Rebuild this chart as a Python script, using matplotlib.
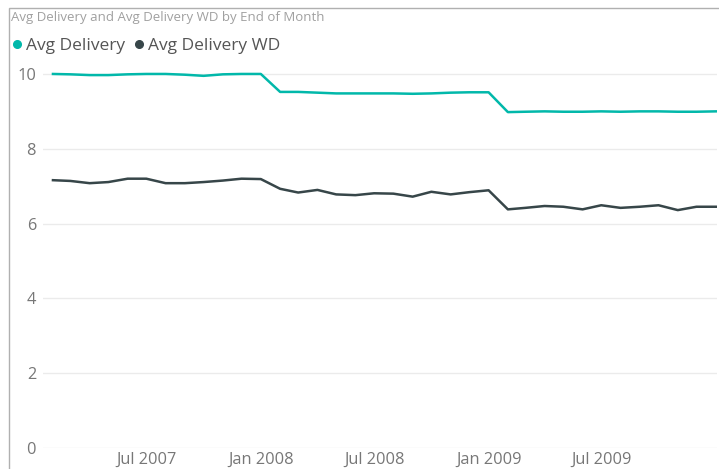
import pandas as pd
import matplotlib
matplotlib.use("Agg")
from matplotlib import pyplot as plt
from matplotlib.lines import Line2D
from matplotlib.patches import Rectangle

# DATA (end of month, Jan 2007 - Dec 2009)
months = pd.date_range("2007-01-31", "2009-12-31", freq="ME")
avg_delivery = [10.00, 9.99, 9.97, 9.97, 9.99, 10.00, 10.00, 9.98, 9.95, 9.99, 10.00, 10.00,
                9.52, 9.52, 9.50, 9.48, 9.48, 9.48, 9.48, 9.47, 9.48, 9.50, 9.51, 9.51,
                8.98, 8.99, 9.00, 8.99, 8.99, 9.00, 8.99, 9.00, 9.00, 8.99, 8.99, 9.00]
avg_delivery_wd = [7.16, 7.14, 7.08, 7.11, 7.20, 7.20, 7.08, 7.08, 7.11, 7.15, 7.20, 7.19,
                   6.93, 6.83, 6.90, 6.78, 6.76, 6.81, 6.80, 6.72, 6.85, 6.78, 6.84, 6.89,
                   6.38, 6.42, 6.47, 6.45, 6.38, 6.49, 6.42, 6.45, 6.49, 6.36, 6.45, 6.45]
tick_dates = pd.to_datetime(["2007-07-01", "2008-01-01", "2008-07-01", "2009-01-01", "2009-07-01"])
tick_labels = ["Jul 2007", "Jan 2008", "Jul 2008", "Jan 2009", "Jul 2009"]

teal = "#01B8AA"
dark = "#374649"

plt.rcParams['font.family'] = ['Open Sans', 'DejaVu Sans']

fig = plt.figure(figsize=(7.19, 4.69), dpi=100)
W, H = 719, 469

# visual border
fig.patches.append(Rectangle((9 / W, -0.1), 1.1, 1 - 8 / H + 0.1, transform=fig.transFigure,
                             fill=False, edgecolor="#b0b0b0", linewidth=1))

ax = fig.add_axes([43 / W, 1 - 448 / H, (717 - 43) / W, (448 - 59) / H])
ax.plot(months, avg_delivery, color=teal, linewidth=1.8)
ax.plot(months, avg_delivery_wd, color=dark, linewidth=1.8)

ax.set_ylim(0, 10.4)
ax.set_yticks([0, 2, 4, 6, 8, 10])
ax.set_xlim(months[0] - pd.Timedelta(days=16), months[-1] + pd.Timedelta(days=2))
ax.set_xticks(tick_dates)
ax.set_xticklabels(tick_labels)

ax.grid(axis="y", color="#ebebeb", linewidth=1)
ax.set_axisbelow(True)
for s in ax.spines.values():
    s.set_visible(False)
ax.tick_params(axis="both", length=0, colors="#777777", labelsize=11.8)
ax.tick_params(axis="y", pad=5)
ax.tick_params(axis="x", pad=3)

fig.text(11 / W, 1 - 17 / H, "Avg Delivery and Avg Delivery WD by End of Month",
         fontsize=9.5, color="#a0a0a0", va="center", ha="left")

handles = [Line2D([], [], marker="o", linestyle="", color=teal, markersize=5.5),
           Line2D([], [], marker="o", linestyle="", color=dark, markersize=5.5)]
fig.legend(handles, ["Avg Delivery", "Avg Delivery WD"], loc="center left",
           bbox_to_anchor=(-4 / W, 1 - 46 / H), ncol=2, frameon=False,
           fontsize=12.5, labelcolor="#555555", handletextpad=0.0, columnspacing=0.35,
           handlelength=1.0, borderpad=0.2)

fig.savefig("out.png", dpi=100)
